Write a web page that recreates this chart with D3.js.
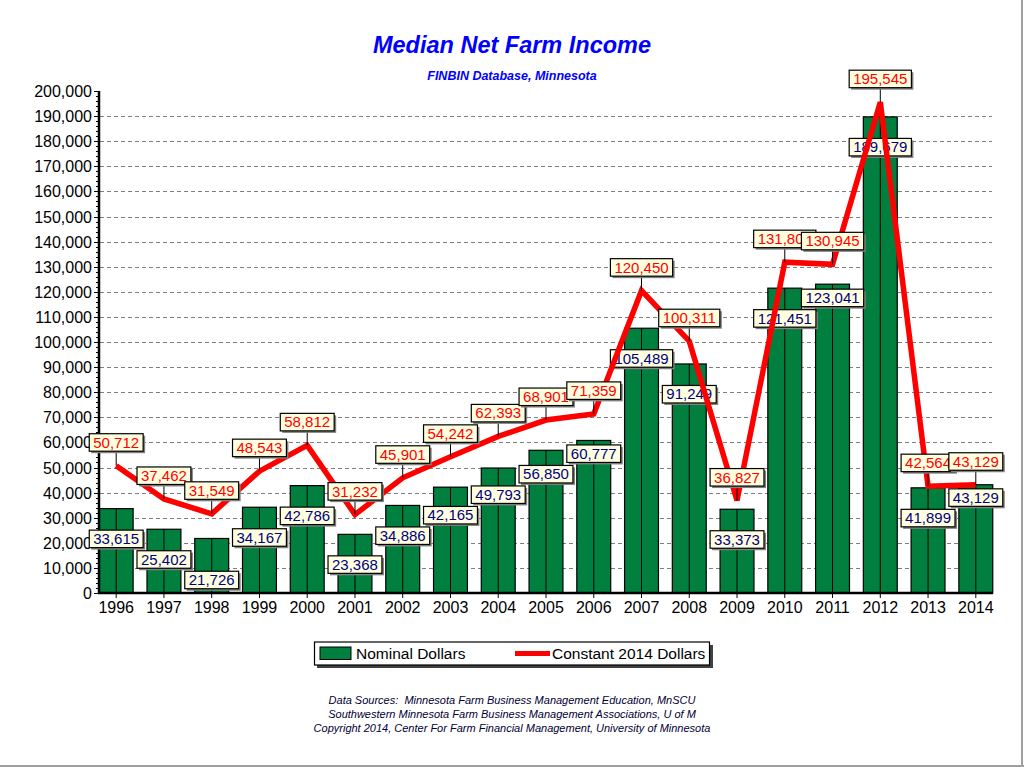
<!DOCTYPE html>
<meta charset="utf-8">
<title>Median Net Farm Income</title>
<style>
  body { margin: 0; background: #fff; }
  text { font-family: Arial, "Liberation Sans", sans-serif; }
</style>
<script src="https://d3js.org/d3.v7.min.js"></script>
<body>
<script>
  // data
  var years = ["1996", "1997", "1998", "1999", "2000", "2001", "2002", "2003", "2004", "2005",
               "2006", "2007", "2008", "2009", "2010", "2011", "2012", "2013", "2014"];
  var nominal = [33615, 25402, 21726, 34167, 42786, 23368, 34886, 42165, 49793, 56850,
                 60777, 105489, 91249, 33373, 121451, 123041, 189679, 41899, 43129];
  var constant2014 = [50712, 37462, 31549, 48543, 58812, 31232, 45901, 54242, 62393, 68901,
                      71359, 120450, 100311, 36827, 131805, 130945, 195545, 42564, 43129];
  var seriesNames = ["Nominal Dollars", "Constant 2014 Dollars"];
  var footer = [
    "Data Sources:  Minnesota Farm Business Management Education, MnSCU",
    "Southwestern Minnesota Farm Business Management Associations, U of M",
    "Copyright 2014, Center For Farm Financial Management, University of Minnesota"
  ];

  var W = 1024, H = 767;
  var green = "#007f3f", red = "#ff0000", boxFill = "#ffffe0";
  var fmt = d3.format(",");

  var svg = d3.select("body").append("svg")
      .attr("width", W)
      .attr("height", H);

  var x = d3.scaleBand().domain(years).range([99, 993]).paddingInner(0.29).paddingOuter(0.005);
  var y = d3.scaleLinear().domain([0, 200000]).range([593, 91]);
  var cx = function(yr) { return x(yr) + x.bandwidth() / 2; };

  // titles
  svg.append("text")
      .attr("x", 512).attr("y", 53)
      .attr("text-anchor", "middle")
      .style("font-size", "23.5px").style("font-weight", "bold").style("font-style", "italic")
      .attr("fill", "#0000ff")
      .text("Median Net Farm Income");
  svg.append("text")
      .attr("x", 512).attr("y", 80)
      .attr("text-anchor", "middle")
      .style("font-size", "12.5px").style("font-weight", "bold").style("font-style", "italic")
      .attr("fill", "#0000ff")
      .text("FINBIN Database, Minnesota");

  // grid
  svg.append("g")
      .selectAll("line")
      .data(y.ticks(20).filter(function(t) { return t > 0 && t < 200000; }))
      .enter().append("line")
      .attr("x1", 100).attr("x2", 992)
      .attr("y1", function(d) { return Math.round(y(d)) + 0.5; })
      .attr("y2", function(d) { return Math.round(y(d)) + 0.5; })
      .attr("stroke", "#808080")
      .attr("stroke-dasharray", "4,3");

  // bars
  var bars = svg.append("g");
  bars.selectAll("rect")
      .data(nominal)
      .enter().append("rect")
      .attr("x", function(d, i) { return x(years[i]); })
      .attr("y", function(d) { return y(d); })
      .attr("width", x.bandwidth())
      .attr("height", function(d) { return y(0) - y(d); })
      .attr("fill", green)
      .attr("stroke", "#000")
      .attr("stroke-width", 1.2);
  bars.selectAll("line")
      .data(nominal)
      .enter().append("line")
      .attr("x1", function(d, i) { return cx(years[i]); })
      .attr("x2", function(d, i) { return cx(years[i]); })
      .attr("y1", function(d) { return y(d); })
      .attr("y2", y(0))
      .attr("stroke", "#000");

  // y axis
  var yAxis = svg.append("g");
  yAxis.selectAll(".minor")
      .data(y.ticks(100))
      .enter().append("line")
      .attr("x1", 96).attr("x2", 99)
      .attr("y1", function(d) { return Math.round(y(d)) + 0.5; })
      .attr("y2", function(d) { return Math.round(y(d)) + 0.5; })
      .attr("stroke", "#000");
  yAxis.selectAll(".major")
      .data(y.ticks(20))
      .enter().append("line")
      .attr("x1", 94).attr("x2", 99)
      .attr("y1", function(d) { return Math.round(y(d)) + 0.5; })
      .attr("y2", function(d) { return Math.round(y(d)) + 0.5; })
      .attr("stroke", "#000");
  yAxis.selectAll("text")
      .data(y.ticks(20))
      .enter().append("text")
      .attr("x", 92)
      .attr("y", function(d) { return y(d) + 6; })
      .attr("text-anchor", "end")
      .style("font-size", "16px")
      .text(function(d) { return fmt(d); });
  yAxis.append("line")
      .attr("x1", 99).attr("x2", 99)
      .attr("y1", y(200000)).attr("y2", y(0) + 1)
      .attr("stroke", "#000").attr("stroke-width", 2.5);

  // x axis
  var xAxis = svg.append("g");
  xAxis.append("line")
      .attr("x1", 98).attr("x2", 993)
      .attr("y1", y(0)).attr("y2", y(0))
      .attr("stroke", "#000").attr("stroke-width", 2.5);
  xAxis.selectAll("line.tick")
      .data(years)
      .enter().append("line")
      .attr("class", "tick")
      .attr("x1", function(d) { return cx(d); })
      .attr("x2", function(d) { return cx(d); })
      .attr("y1", y(0)).attr("y2", y(0) + 5)
      .attr("stroke", "#000");
  xAxis.selectAll("text")
      .data(years)
      .enter().append("text")
      .attr("x", function(d) { return cx(d); })
      .attr("y", 613)
      .attr("text-anchor", "middle")
      .style("font-size", "16px")
      .text(function(d) { return d; });

  // a framed value label with a shadow
  var boxH = 17.5;
  function measure(str) {
    var t = svg.append("text").style("font-size", "15px").text(str);
    var w = t.node().getComputedTextLength();
    t.remove();
    return w + 8;
  }
  function drawBox(layer, str, centre, top, colour) {
    var w = measure(str);
    var g = layer.append("g");
    g.append("rect")
        .attr("x", centre - w / 2 + 2).attr("y", top + 2)
        .attr("width", w).attr("height", boxH)
        .attr("fill", "#808080");
    g.append("rect")
        .attr("x", centre - w / 2).attr("y", top)
        .attr("width", w).attr("height", boxH)
        .attr("fill", boxFill)
        .attr("stroke", "#000")
        .attr("stroke-width", 1.2);
    g.append("text")
        .attr("x", centre).attr("y", top + 14)
        .attr("text-anchor", "middle")
        .style("font-size", "15px")
        .attr("fill", colour)
        .text(str);
  }

  // nominal labels, nudged when they run into the previous one
  var nomLayer = svg.append("g");
  var prev = null, gap = 3;
  nominal.forEach(function(v, i) {
    var c = cx(years[i]), w = measure(fmt(v));
    var top = y(v) + 21.5;
    if (prev && c - w / 2 < prev.right && c + w / 2 > prev.left &&
        top < prev.bottom + gap && top + boxH > prev.top - gap) {
      top = v >= nominal[i - 1] ? prev.top - gap - boxH : prev.bottom + gap;
    }
    drawBox(nomLayer, fmt(v), c, top, "#000080");
    prev = {left: c - w / 2, right: c + w / 2, top: top, bottom: top + boxH};
  });

  // constant dollars line
  var line = d3.line()
      .x(function(d, i) { return cx(years[i]); })
      .y(function(d) { return y(d); });
  svg.append("path")
      .datum(constant2014)
      .attr("d", line)
      .attr("fill", "none")
      .attr("stroke", red)
      .attr("stroke-width", 5.5);

  var conLayer = svg.append("g");
  constant2014.forEach(function(v, i) {
    var c = cx(years[i]);
    var top = y(v) - 14.5 - boxH;
    conLayer.append("line")
        .attr("x1", c).attr("x2", c)
        .attr("y1", top + boxH).attr("y2", y(v))
        .attr("stroke", "#000");
    drawBox(conLayer, fmt(v), c, top, red);
  });

  // legend
  var legend = svg.append("g");
  legend.append("rect")
      .attr("x", 317).attr("y", 645).attr("width", 396).attr("height", 23)
      .attr("fill", "#404040");
  legend.append("rect")
      .attr("x", 314.5).attr("y", 642).attr("width", 395).attr("height", 23)
      .attr("fill", "#fff").attr("stroke", "#000").attr("stroke-width", 1.2);
  legend.append("rect")
      .attr("x", 320).attr("y", 647).attr("width", 31).attr("height", 12.5)
      .attr("fill", green).attr("stroke", "#000");
  legend.append("text")
      .attr("x", 356).attr("y", 659)
      .style("font-size", "15.5px")
      .text(seriesNames[0]);
  legend.append("line")
      .attr("x1", 515).attr("x2", 550).attr("y1", 653.5).attr("y2", 653.5)
      .attr("stroke", red).attr("stroke-width", 5);
  legend.append("text")
      .attr("x", 552).attr("y", 659)
      .style("font-size", "15.5px")
      .text(seriesNames[1]);

  // sources
  svg.append("g")
      .selectAll("text")
      .data(footer)
      .enter().append("text")
      .attr("x", 512)
      .attr("y", function(d, i) { return 704 + i * 14; })
      .attr("text-anchor", "middle")
      .style("font-size", "11px").style("font-style", "italic")
      .style("white-space", "pre")
      .attr("fill", "#000033")
      .text(function(d) { return d; });

  // frame edges
  svg.append("line")
      .attr("x1", 1022).attr("x2", 1022).attr("y1", 0).attr("y2", H)
      .attr("stroke", "#a0a0a0").attr("stroke-width", 2);
  svg.append("line")
      .attr("x1", 0).attr("x2", W).attr("y1", 766).attr("y2", 766)
      .attr("stroke", "#a0a0a0").attr("stroke-width", 2);
</script>
</body>
